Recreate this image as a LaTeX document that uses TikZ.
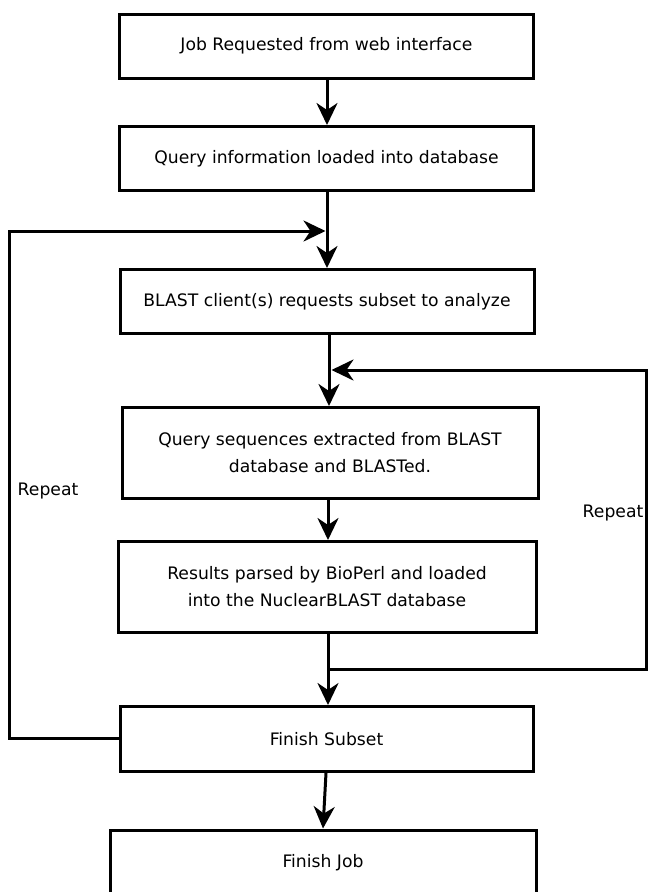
\documentclass[tikz,border=0pt]{standalone}
\usepackage{fontspec}
\setmainfont{DejaVu Sans}
\usetikzlibrary{arrows.meta}
\begin{document}
\begin{tikzpicture}[x=1pt,y=-1pt,
  every node/.style={font=\fontsize{17.2}{27}\selectfont},
  stepbox/.style={draw, line width=3pt, inner sep=0pt, align=center},
  flow/.style={line width=3pt},
  arr/.style={flow, -{Stealth[length=22pt,width=21pt,inset=7pt]}},
  lbl/.style={inner sep=0pt}]
\useasboundingbox (0,0) rectangle (648,892);
\begin{scope}
\clip (0,0) rectangle (648,892);
% process boxes
\node[stepbox, minimum width=414pt, minimum height=64pt] (job) at (326.5,46) {Job Requested from web interface};
\node[stepbox, minimum width=414pt, minimum height=64pt] (query) at (326.5,158.5) {Query information loaded into database};
\node[stepbox, minimum width=414pt, minimum height=64pt] (client) at (327,301.5) {BLAST client(s) requests subset to analyze};
\node[stepbox, minimum width=416pt, minimum height=91pt] (blast) at (330,453) {Query sequences extracted from BLAST\\database and BLASTed.};
\node[stepbox, minimum width=418pt, minimum height=91pt] (parse) at (327,587) {Results parsed by BioPerl and loaded\\into the NuclearBLAST database};
\node[stepbox, minimum width=413pt, minimum height=65pt] (subset) at (326.5,739) {Finish Subset};
\node[stepbox, minimum width=426pt, minimum height=66pt] (finish) at (323,863) {Finish Job};
% loop labels
\node[lbl] (rep1) at (48,491) {Repeat};
\node[lbl] (rep2) at (613,513) {Repeat};
% junctions
\coordinate (jA) at (327,231);
\coordinate (jB) at (330,370);
\coordinate (jC) at (328,669);
\coordinate (lL) at (9,738);
\coordinate (lT) at (9,231);
\coordinate (rB) at (646,669);
\coordinate (rT) at (646,370);
% main flow
\draw[arr] (job.south -| 327,0) -- (query.north -| 327,0);
\draw[arr] (query.south -| jA) -- (client.north -| jA);
\draw[arr] (client.south -| 329,0) -- (blast.north -| 329,0);
\draw[arr] (blast.south -| 328,0) -- (parse.north -| 328,0);
\draw[arr] (parse.south -| jC) -- (subset.north -| jC);
\draw[arr] (subset.south -| 326,0) -- (finish.north -| 323,0);
% outer repeat loop
\draw[arr] (subset.west |- lL) -- (lL) -- (lT) -- ([xshift=-1.5pt]jA);
% inner repeat loop
\draw[arr] (jC) -- (rB) -- (rT) -- ([xshift=1.5pt]jB);
\end{scope}
\end{tikzpicture}
\end{document}
